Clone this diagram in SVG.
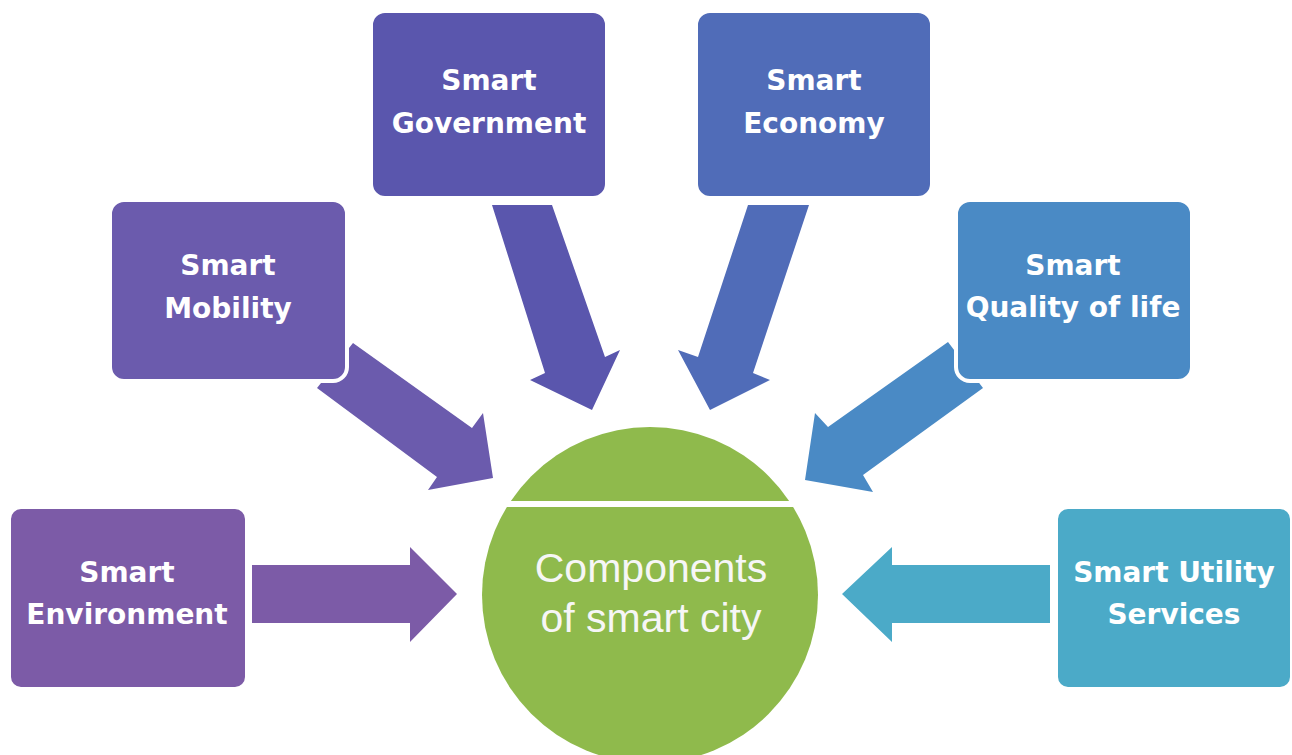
<svg xmlns="http://www.w3.org/2000/svg" width="1292" height="755" viewBox="0 0 1292 755">
<style>
.box{stroke:#ffffff;stroke-width:4}
.lbl{font-family:"DejaVu Sans",sans-serif;font-weight:bold;font-size:28px;fill:#ffffff;text-anchor:middle}
.ctr{font-family:"Liberation Sans",Arial,sans-serif;font-size:41px;fill:#f6f6f6;text-anchor:middle}
</style>
<rect width="1292" height="755" fill="#ffffff"/>
<g id="connectors">
<polygon fill="#7C5BA7" points="252,565 410,565 410,547 457,594 410,642 410,623 252,623"/>
<polygon fill="#4BAAC8" points="1050,565 892,565 892,547 842,594 892,642 892,623 1050,623"/>
<polygon fill="#6B5BAD" points="353,343 472,428 483,413 493,478 428,490 437,477 317,388"/>
<polygon fill="#4A8AC5" points="948,342 983,388 863,475 873,492 805,480 815,413 828,427"/>
<polygon fill="#5A56AD" points="492,205 552,205 605,357 620,350 592,410 530,380 545,373"/>
<polygon fill="#506CB8" points="748,205 809,205 753,373 770,380 710,410 678,350 698,357"/>
</g>
<g id="center">
<circle cx="650" cy="595" r="168" fill="#8FBA4C"/>
<rect x="480" y="501" width="340" height="6" fill="#ffffff"/>
<text class="ctr" x="651" y="582">Components</text>
<text class="ctr" x="651" y="632">of smart city</text>
</g>
<g id="government">
<rect class="box" x="371" y="11" width="236" height="187" rx="14" fill="#5A56AD"/>
<text class="lbl" x="489" y="90">Smart</text>
<text class="lbl" x="489" y="133">Government</text>
</g>
<g id="economy">
<rect class="box" x="696" y="11" width="236" height="187" rx="14" fill="#506CB8"/>
<text class="lbl" x="814" y="90">Smart</text>
<text class="lbl" x="814" y="133">Economy</text>
</g>
<g id="mobility">
<rect class="box" x="110" y="200" width="237" height="181" rx="14" fill="#6B5BAD"/>
<text class="lbl" x="228" y="275">Smart</text>
<text class="lbl" x="228" y="318">Mobility</text>
</g>
<g id="quality">
<rect class="box" x="956" y="200" width="236" height="181" rx="14" fill="#4A8AC5"/>
<text class="lbl" x="1073" y="275">Smart</text>
<text class="lbl" x="1073" y="317">Quality of life</text>
</g>
<g id="environment">
<rect class="box" x="9" y="507" width="238" height="182" rx="12" fill="#7C5BA7"/>
<text class="lbl" x="127" y="582">Smart</text>
<text class="lbl" x="127" y="624">Environment</text>
</g>
<g id="utility">
<rect class="box" x="1056" y="507" width="236" height="182" rx="12" fill="#4BAAC8"/>
<text class="lbl" x="1174" y="582">Smart Utility</text>
<text class="lbl" x="1174" y="624">Services</text>
</g>
</svg>
